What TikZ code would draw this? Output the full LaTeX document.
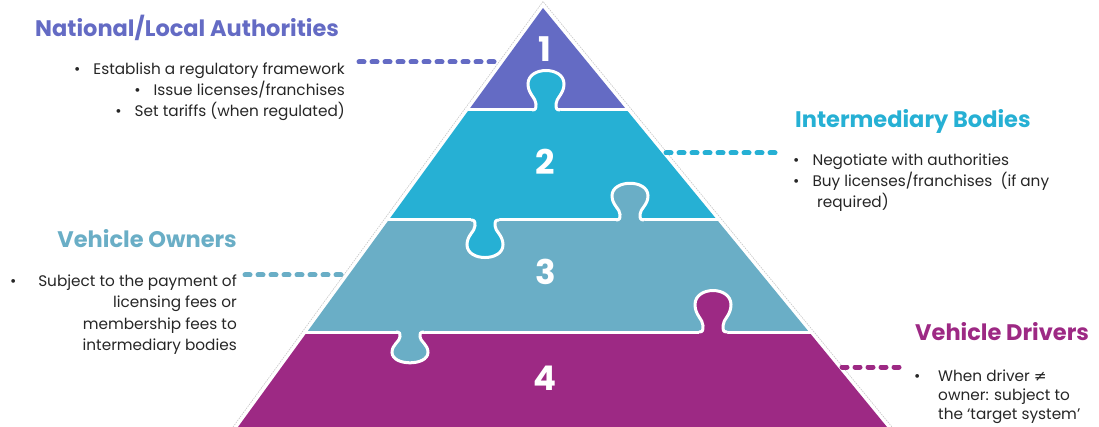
\documentclass[tikz,border=0pt]{standalone}
\usepackage{fontspec}
\setmainfont{Poppins}
\newfontfamily\symfont{DejaVu Sans}
\definecolor{cA}{HTML}{646BC4}
\definecolor{cB}{HTML}{26B0D4}
\definecolor{cC}{HTML}{6AAEC6}
\definecolor{cD}{HTML}{9D2984}
\definecolor{txt}{HTML}{262626}
\tikzset{
 seam/.style={white, line width=3pt},
 conn/.style={line width=5pt, line cap=round, dash pattern=on 5pt off 8pt},
 num/.style={text=white, font=\bfseries\fontsize{34}{34}\selectfont, inner sep=0pt},
 ttl/.style={font=\bfseries\fontsize{22.5}{27}\selectfont, inner sep=0pt},
 bl/.style={text=txt, font=\fontsize{15.3}{21}\selectfont, inner sep=0pt},
 rim/.style={gray!45, line width=0.6pt, dash pattern=on 1.5pt off 1pt},
}
\newcommand{\puzzletab}[4]{%
 \begin{scope}[shift={(#1,#2)}, yscale=#3]
  \fill[#4] (-14,4) -- (-14,0) .. controls (-10,0) and (-10,-2) .. (-10,-6)
   .. controls (-10,-12) and (-18,-16) .. (-18,-26)
   .. controls (-18,-44) and (18,-44) .. (18,-26)
   .. controls (18,-16) and (10,-12) .. (10,-6)
   .. controls (10,-2) and (10,0) .. (14,0) -- (14,4) -- cycle;
  \draw[seam] (-14,0) .. controls (-10,0) and (-10,-2) .. (-10,-6)
   .. controls (-10,-12) and (-18,-16) .. (-18,-26)
   .. controls (-18,-44) and (18,-44) .. (18,-26)
   .. controls (18,-16) and (10,-12) .. (10,-6)
   .. controls (10,-2) and (10,0) .. (14,0);
 \end{scope}}
\begin{document}
\begin{tikzpicture}[x=1pt, y=-1pt]
\useasboundingbox (0,0) rectangle (1099,427);
% outer faint rim
\draw[rim] (233,427) -- (543,1.5) -- (892,427);
% levels
\fill[cA] (543,8) -- (626.7,110) -- (468.7,110) -- cycle;
\fill[cB] (468.7,110) -- (626.7,110) -- (717.1,220) -- (388.7,220) -- cycle;
\fill[cC] (388.7,220) -- (717.1,220) -- (809,332) -- (307.1,332) -- cycle;
\fill[cD] (307.1,332) -- (809,332) -- (887,427) -- (238,427) -- cycle;
% seams
\draw[seam] (466,110) -- (629,110);
\draw[seam] (386,220) -- (720,220);
\draw[seam] (304,332) -- (812,332);
% tabs
\puzzletab{546}{110}{1}{cB}
\puzzletab{485}{220}{-0.95}{cB}
\puzzletab{630}{220}{0.93}{cC}
\puzzletab{410}{332}{-0.78}{cC}
\puzzletab{713}{332}{1.05}{cD}
% numbers
\node[num] (n1) at (545,49) {1};
\node[num] (n2) at (545,162) {2};
\node[num] (n3) at (546,272) {3};
\node[num] (n4) at (545,378) {4};
% block 1
\node[ttl, text=cA, anchor=base west] (t1) at (35,37) {National/Local Authorities};
\node[bl, anchor=base east] (b11) at (345,75) {\textbullet\hspace{13pt}Establish a regulatory framework};
\node[bl, anchor=base east] (b12) at (345,96) {\textbullet\hspace{13pt}Issue licenses/franchises};
\node[bl, anchor=base east] (b13) at (345,117) {\textbullet\hspace{13pt}Set tariffs (when regulated)};
\coordinate (k1a) at (359,62);
\coordinate (k1b) at (500,62);
\draw[conn, cA] (k1a) -- (k1b);
% block 2
\node[ttl, text=cB, anchor=base west] (t2) at (795,128) {Intermediary Bodies};
\node[bl, anchor=base west] (b21) at (793,166) {\textbullet\hspace{13pt}Negotiate with authorities};
\node[bl, anchor=base west] (b22) at (793,187) {\textbullet\hspace{13pt}Buy licenses/franchises\ \ (if any};
\node[bl, anchor=base west] (b23) at (817,208) {required)};
\coordinate (k2a) at (666,153);
\coordinate (k2b) at (779,153);
\draw[conn, cB] (k2a) -- (k2b);
% block 3
\node[ttl, text=cC, anchor=base east] (t3) at (237,248) {Vehicle Owners};
\node[bl, anchor=base west] (b3b) at (10,287) {\textbullet};
\node[bl, anchor=base east] (b31) at (237,287) {Subject to the payment of};
\node[bl, anchor=base east] (b32) at (237,308) {licensing fees or};
\node[bl, anchor=base east] (b33) at (237,329) {membership fees to};
\node[bl, anchor=base east] (b34) at (237,350) {intermediary bodies};
\coordinate (k3a) at (245,275);
\coordinate (k3b) at (344,275);
\draw[conn, cC] (k3a) -- (k3b);
% block 4
\node[ttl, text=cD, anchor=base west] (t4) at (915,340) {Vehicle Drivers};
\node[bl, anchor=base west] (b4b) at (914,381) {\textbullet};
\node[bl, anchor=base west] (b41) at (938,381) {When driver {\symfont ≠}};
\node[bl, anchor=base west] (b42) at (938,400) {owner: subject to};
\node[bl, anchor=base west] (b43) at (938,419) {the ‘target system’};
\coordinate (k4a) at (842,367);
\coordinate (k4b) at (901,367);
\draw[conn, cD] (k4a) -- (k4b);
\end{tikzpicture}
\end{document}
